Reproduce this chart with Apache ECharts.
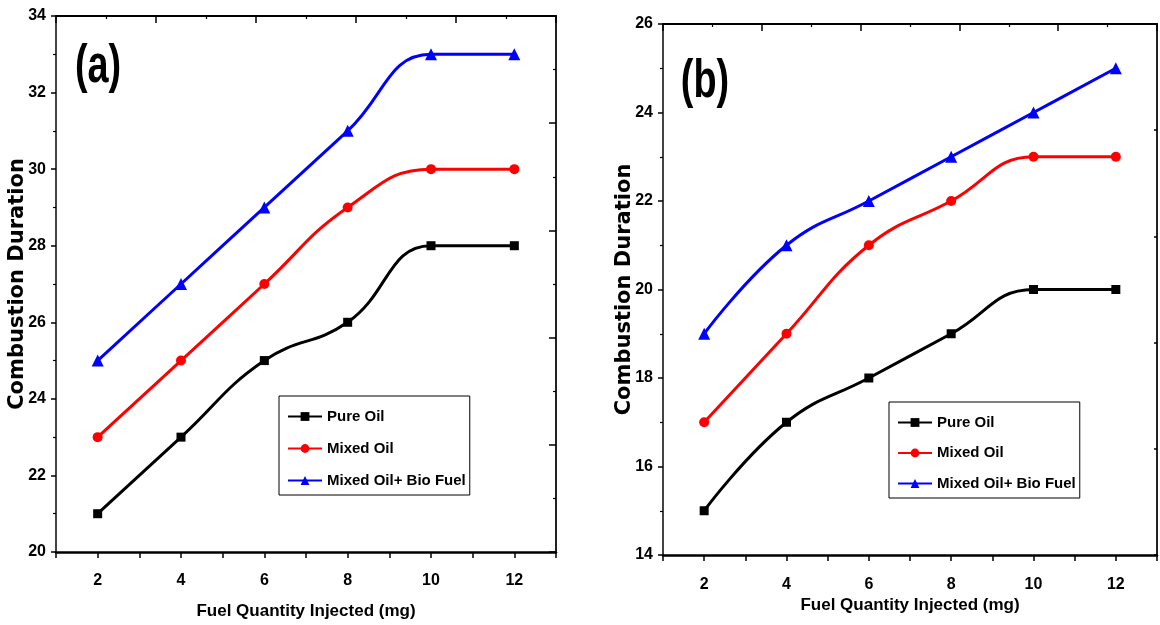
<!DOCTYPE html>
<html>
<head>
<meta charset="utf-8">
<title>Combustion Duration</title>
<script src="https://cdn.jsdelivr.net/npm/echarts@6/dist/echarts.min.js"></script>
<style>
  html, body { margin: 0; padding: 0; background: #fff; }
  #main { width: 1160px; height: 625px; }
</style>
</head>
<body>
<div id="main"></div>
<script>
// data
const fuelQty = [2, 4, 6, 8, 10, 12];
const seriesNames = ['Pure Oil', 'Mixed Oil', 'Mixed Oil+ Bio Fuel'];

// panel (a)
const pureOilA = [21, 23, 25, 26, 28, 28];
const mixedOilA = [23, 25, 27, 29, 30, 30];
const bioFuelA = [25, 27, 29, 31, 33, 33];

// panel (b)
const pureOilB = [15, 17, 18, 19, 20, 20];
const mixedOilB = [17, 19, 21, 22, 23, 23];
const bioFuelB = [19, 21, 22, 23, 24, 25];

const narrow = "'Liberation Sans Narrow', 'Arial Narrow', 'Liberation Sans', sans-serif";
const wide = "'DejaVu Sans', Verdana, sans-serif";

const colors = ['#000000', '#ff0000', '#0000ff'];
const symbols = ['rect', 'circle', 'triangle'];
const symbolSizes = [9, 10, 12];

const myChart = echarts.init(document.getElementById('main'));

const pair = (vals) => fuelQty.map((x, i) => [x, vals[i]]);

const makeSeries = (vals, idx, gridIdx) => ({
  name: seriesNames[idx],
  type: 'line',
  xAxisIndex: gridIdx * 2,
  yAxisIndex: gridIdx * 2,
  data: pair(vals),
  smooth: 0.45,
  symbol: symbols[idx],
  symbolSize: symbolSizes[idx],
  lineStyle: { color: colors[idx], width: 3 },
  itemStyle: { color: colors[idx] },
  z: 5
});

// bottom axis with the numbers
const bottomAxis = (g, margin) => ({
  gridIndex: g,
  type: 'value',
  position: 'bottom',
  min: 1,
  max: 13,
  interval: 1,
  name: 'Fuel Quantity Injected (mg)',
  nameLocation: 'middle',
  nameGap: g === 0 ? 51 : 42,
  nameMoveOverlap: false,
  nameTextStyle: { fontFamily: narrow, fontWeight: 'bold', fontSize: 17, color: '#000' },
  axisLine: { onZero: false, lineStyle: { color: '#000', width: 2.5 } },
  axisTick: { inside: false, length: 6, lineStyle: { color: '#000', width: 1.5 } },
  axisLabel: {
    margin: margin,
    fontFamily: narrow, fontWeight: 'bold', fontSize: 16, color: '#000',
    formatter: (v) => (v % 2 === 0 ? String(v) : '')
  },
  splitLine: { show: false }
});

// mirror axis on top, ticks only
const topAxis = (g) => ({
  gridIndex: g,
  type: 'value',
  position: 'top',
  min: 0,
  max: 10,
  interval: 2,
  axisLine: { onZero: false, lineStyle: { color: '#000', width: 2 } },
  axisTick: { inside: true, length: 7, lineStyle: { color: '#000', width: 1.5 } },
  minorTick: { show: true, splitNumber: 2, length: 3, lineStyle: { color: '#000', width: 1.2 } },
  axisLabel: { show: false },
  splitLine: { show: false }
});

const leftAxis = (g, min, max) => ({
  gridIndex: g,
  type: 'value',
  position: 'left',
  min: min,
  max: max,
  interval: 2,
  name: 'Combustion Duration',
  nameLocation: 'middle',
  nameGap: 28,
  nameMoveOverlap: false,
  nameTextStyle: { fontFamily: wide, fontWeight: 'bold', fontSize: 21, color: '#000' },
  axisLine: { onZero: false, lineStyle: { color: '#444', width: 2 } },
  axisTick: { inside: false, length: 5, lineStyle: { color: '#000', width: 1.5 } },
  minorTick: { show: true, splitNumber: 2, length: 3, lineStyle: { color: '#000', width: 1.2 } },
  axisLabel: { margin: 10, fontFamily: narrow, fontWeight: 'bold', fontSize: 16, color: '#000' },
  splitLine: { show: false }
});

const rightAxis = (g, max, interval, major, minor) => ({
  gridIndex: g,
  type: 'value',
  position: 'right',
  min: 0,
  max: max,
  interval: interval,
  axisLine: { onZero: false, lineStyle: { color: '#222', width: 2 } },
  axisTick: { inside: true, length: major, lineStyle: { color: '#000', width: 1.5 } },
  minorTick: { show: minor, splitNumber: 2, length: 3, lineStyle: { color: '#000', width: 1.2 } },
  axisLabel: { show: false },
  splitLine: { show: false }
});

const legendBox = (left, top, gap) => ({
  data: seriesNames,
  orient: 'vertical',
  left: left,
  top: top,
  itemWidth: 34,
  itemHeight: 11,
  itemGap: gap,
  padding: [13, 4, 7, 8],
  borderColor: '#000',
  borderWidth: 1,
  backgroundColor: '#fff',
  textStyle: { fontFamily: narrow, fontWeight: 'bold', fontSize: 15, color: '#000' }
});

const options = {
  animation: false,
  backgroundColor: '#ffffff',
  grid: [
    { left: 56, top: 16, width: 500, height: 537 },
    { left: 663, top: 24, width: 500, height: 531 }
  ],
  xAxis: [
    bottomAxis(0, 21),
    topAxis(0),
    bottomAxis(1, 22),
    topAxis(1)
  ],
  yAxis: [
    leftAxis(0, 20, 34),
    rightAxis(0, 10, 2, 7, true),
    leftAxis(1, 14, 26),
    rightAxis(1, 5, 1, 3, false)
  ],
  legend: [
    legendBox(279, 396, 17),
    legendBox(889, 402, 15.5)
  ],
  graphic: [
    {
      type: 'text', x: 98, y: 67, scaleX: 0.7,
      style: { text: '(a)', fontFamily: narrow, fontWeight: 'bold', fontSize: 54,
               fill: '#000', textAlign: 'center', textVerticalAlign: 'middle' }
    },
    {
      type: 'text', x: 705, y: 82, scaleX: 0.7,
      style: { text: '(b)', fontFamily: narrow, fontWeight: 'bold', fontSize: 54,
               fill: '#000', textAlign: 'center', textVerticalAlign: 'middle' }
    }
  ],
  series: [
    makeSeries(pureOilA, 0, 0),
    makeSeries(mixedOilA, 1, 0),
    makeSeries(bioFuelA, 2, 0),
    makeSeries(pureOilB, 0, 1),
    makeSeries(mixedOilB, 1, 1),
    makeSeries(bioFuelB, 2, 1)
  ]
};

myChart.setOption(options);
</script>
</body>
</html>
